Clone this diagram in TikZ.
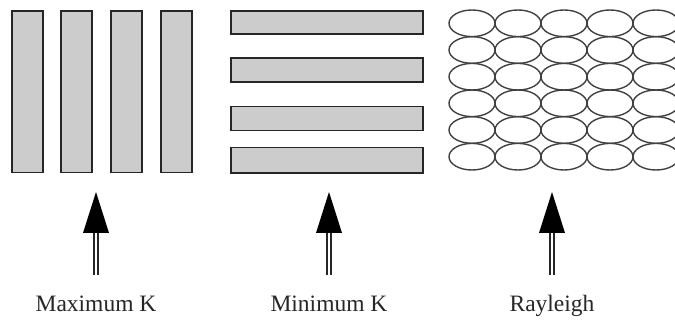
\documentclass[tikz,border=0pt]{standalone}
\usepackage{fontspec}
\setmainfont{Liberation Serif}
\begin{document}
\begin{tikzpicture}[x=1pt,y=-1pt,
  bar/.style={draw=black!85, line width=1.6pt, fill=black!20},
  grain/.style={draw=black!75, line width=1.4pt},
  shaft/.style={draw=black!85, double=white, double distance=2.6pt, line width=1.4pt},
  head/.style={fill=black},
  lbl/.style={anchor=base, font=\fontsize{23.5}{27}\selectfont, text=black!85, inner sep=0pt}]
\useasboundingbox (0,0) rectangle (675,320);
\clip (0,0) rectangle (675,320);
% Maximum K: vertical bars
\foreach \x in {12,61,111,161}
  \draw[bar] (\x,11) rectangle ++(31,161.5);
% Minimum K: horizontal bars
\foreach \y/\yy in {11/34.3, 58.3/82.3, 106.7/130.7, 147.7/173.3}
  \draw[bar] (231,\y) rectangle (423,\yy);
% Rayleigh: ellipses
\foreach \cx in {472,518,564,610,656}
  \foreach \cy in {23.3,50,76.7,103.3,130,156.7}
    \draw[grain] (\cx,\cy) ellipse [x radius=23, y radius=13.3];
% arrows and labels
\foreach \n/\x/\t in {a/96/Maximum K, b/329/Minimum K, c/552/Rayleigh}{
  \coordinate (tail\n) at (\x,275);
  \coordinate (base\n) at (\x,233);
  \coordinate (tip\n) at (\x,192);
  \draw[shaft] (tail\n) -- ([yshift=-0.5pt]base\n);
  \fill[head] (tip\n) -- ([xshift=-13pt]base\n) -- ([xshift=13pt]base\n) -- cycle;
  \node[lbl] (l\n) at (\x,311.7) {\t};
}
\end{tikzpicture}
\end{document}
